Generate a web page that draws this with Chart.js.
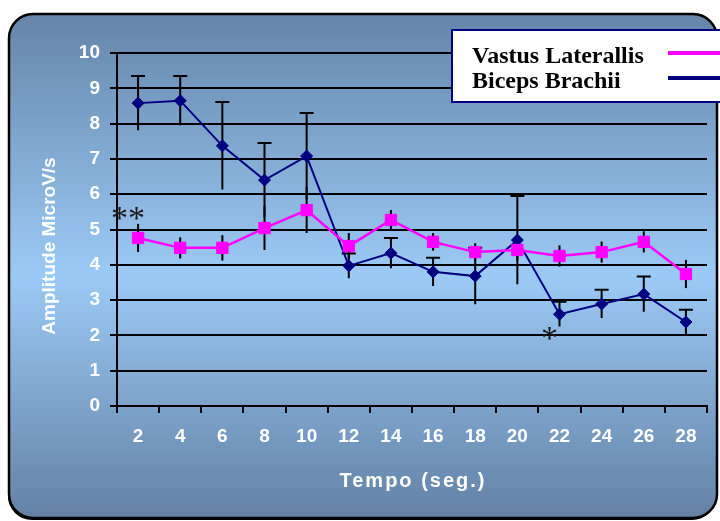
<!DOCTYPE html>
<html>
<head>
<meta charset="utf-8">
<script src="https://cdn.jsdelivr.net/npm/chart.js@4.4.1/dist/chart.umd.min.js"></script>
<style>
  html, body { margin: 0; padding: 0; background: #ffffff; }
  canvas { display: block; }
</style>
</head>
<body>
<canvas id="emg" width="720" height="521"></canvas>
<script>
// Time points (seconds)
const tempo = ['2', '4', '6', '8', '10', '12', '14', '16', '18', '20', '22', '24', '26', '28'];

// Mean EMG amplitude (µV/s) and error (±)
const vastusLaterallis = [4.76, 4.48, 4.48, 5.04, 5.55, 4.53, 5.27, 4.65, 4.36, 4.42, 4.25, 4.36, 4.65, 3.74];
const vastusErr        = [0.40, 0.30, 0.36, 0.62, 0.65, 0.37, 0.28, 0.25, 0.25, 0.30, 0.30, 0.30, 0.30, 0.40];
const bicepsBrachii    = [8.58, 8.65, 7.37, 6.40, 7.08, 3.97, 4.33, 3.80, 3.68, 4.70, 2.60, 2.89, 3.17, 2.38];
const bicepsErr        = [0.77, 0.70, 1.24, 1.05, 1.22, 0.35, 0.43, 0.40, 0.80, 1.25, 0.35, 0.40, 0.50, 0.35];

// Y axis ticks
const yTicks = [0, 1, 2, 3, 4, 5, 6, 7, 8, 9, 10];

// Significance markers: [category index, value, text]
const significance = [
  [0, 5.47, '**'],
  [10, 2.07, '*']
];

function roundRectPath(ctx, x, y, w, h, r) {
  ctx.beginPath();
  ctx.moveTo(x + r, y);
  ctx.lineTo(x + w - r, y);
  ctx.arcTo(x + w, y, x + w, y + r, r);
  ctx.lineTo(x + w, y + h - r);
  ctx.arcTo(x + w, y + h, x + w - r, y + h, r);
  ctx.lineTo(x + r, y + h);
  ctx.arcTo(x, y + h, x, y + h - r, r);
  ctx.lineTo(x, y + r);
  ctx.arcTo(x, y, x + r, y, r);
  ctx.closePath();
}

// Rounded panel with vertical blue gradient behind the chart
const panel = {
  id: 'panel',
  beforeDraw(chart) {
    const ctx = chart.ctx;
    ctx.save();
    ctx.fillStyle = '#ffffff';
    ctx.fillRect(0, 0, chart.width, chart.height);
    const x = 9, y = 14, w = 708, h = 504, r = 24;
    roundRectPath(ctx, x - 1, y + 2, w, h, r);
    ctx.fillStyle = '#000000';
    ctx.fill();
    const g = ctx.createLinearGradient(0, y, 0, y + h);
    g.addColorStop(0, '#6585a9');
    g.addColorStop(0.52, '#9ccaf6');
    g.addColorStop(1, '#6381a5');
    roundRectPath(ctx, x, y, w, h, r);
    ctx.fillStyle = g;
    ctx.fill();
    ctx.lineWidth = 2.5;
    ctx.strokeStyle = '#000000';
    ctx.stroke();
    ctx.restore();
  }
};

// Vertical error bars; cap only on the upper end where requested
const errorBars = {
  id: 'errorBars',
  beforeDatasetsDraw(chart) {
    const ctx = chart.ctx;
    const ys = chart.scales.y;
    ctx.save();
    ctx.strokeStyle = '#000000';
    ctx.lineWidth = 2;
    chart.data.datasets.forEach((ds, i) => {
      const meta = chart.getDatasetMeta(i);
      meta.data.forEach((pt, j) => {
        const v = ds.data[j], e = ds.errorBars[j];
        const top = ys.getPixelForValue(v + e);
        const bot = ys.getPixelForValue(v - e);
        ctx.beginPath();
        ctx.moveTo(pt.x, top);
        ctx.lineTo(pt.x, bot);
        if (ds.topCap) {
          ctx.moveTo(pt.x - 7, top);
          ctx.lineTo(pt.x + 7, top);
        }
        ctx.stroke();
      });
    });
    ctx.restore();
  }
};

// Axis titles, significance asterisks and the legend box
const decorations = {
  id: 'decorations',
  afterDraw(chart) {
    const ctx = chart.ctx;
    const xs = chart.scales.x, ys = chart.scales.y;
    const area = chart.chartArea;
    ctx.save();

    // Axis titles
    ctx.fillStyle = '#ffffff';
    ctx.textAlign = 'center';
    ctx.textBaseline = 'middle';
    ctx.font = 'bold 20px "Liberation Sans", Arial, sans-serif';
    ctx.letterSpacing = '2px';
    ctx.fillText('Tempo (seg.)', (area.left + area.right) / 2 + 1, 481);
    ctx.letterSpacing = '0px';
    ctx.save();
    ctx.translate(50, 246);
    ctx.rotate(-Math.PI / 2);
    ctx.font = 'bold 19px "Liberation Sans", Arial, sans-serif';
    ctx.fillText('Amplitude MicroV/s', 0, 0);
    ctx.restore();

    // Significance asterisks
    const aSize = 34;
    ctx.fillStyle = '#1a1a1a';
    ctx.font = aSize + 'px "Liberation Serif", "Times New Roman", serif';
    ctx.textBaseline = 'alphabetic';
    significance.forEach(([idx, val, txt]) => {
      const px = xs.getPixelForValue(idx) - 10;
      const py = ys.getPixelForValue(val) + aSize * 0.48;
      ctx.fillText(txt, px, py);
    });

    // Legend
    const lx = 452, ly = 30, lw = 272, lh = 72;
    ctx.fillStyle = '#ffffff';
    ctx.fillRect(lx, ly, lw, lh);
    ctx.lineWidth = 2;
    ctx.strokeStyle = '#000080';
    ctx.strokeRect(lx, ly, lw, lh);
    ctx.textAlign = 'left';
    ctx.textBaseline = 'middle';
    ctx.font = 'bold 24px "Liberation Serif", "Times New Roman", serif';
    chart.data.datasets.forEach((ds, i) => {
      const cy = 57 + i * 25;
      ctx.fillStyle = '#000000';
      ctx.fillText(ds.label, 472, cy);
      ctx.strokeStyle = ds.borderColor;
      ctx.lineWidth = 4;
      ctx.beginPath();
      ctx.moveTo(668, cy - 4);
      ctx.lineTo(724, cy - 4);
      ctx.stroke();
    });
    ctx.restore();
  }
};

new Chart(document.getElementById('emg'), {
  type: 'line',
  data: {
    labels: tempo,
    datasets: [
      {
        label: 'Vastus Laterallis',
        data: vastusLaterallis,
        errorBars: vastusErr,
        topCap: false,
        borderColor: '#ff00ff',
        backgroundColor: '#ff00ff',
        borderWidth: 2.5,
        pointStyle: 'rect',
        pointRadius: 8,
        pointBorderWidth: 1,
        pointBackgroundColor: '#ff00ff',
        pointBorderColor: '#ff00ff',
        tension: 0
      },
      {
        label: 'Biceps Brachii',
        data: bicepsBrachii,
        errorBars: bicepsErr,
        topCap: true,
        borderColor: '#000080',
        backgroundColor: '#000080',
        borderWidth: 2,
        pointStyle: 'rectRot',
        pointRadius: 6,
        pointBorderWidth: 1,
        pointBackgroundColor: '#000080',
        pointBorderColor: '#000080',
        tension: 0
      }
    ]
  },
  options: {
    responsive: false,
    animation: false,
    layout: { padding: { left: 0, top: 53, right: 13, bottom: 0 } },
    plugins: {
      legend: { display: false },
      tooltip: { enabled: false }
    },
    scales: {
      x: {
        type: 'category',
        offset: true,
        afterFit(scale) { scale.height = 115; },
        grid: {
          offset: true,
          drawOnChartArea: false,
          color: '#000000',
          lineWidth: 2,
          tickLength: 7
        },
        border: { display: true, color: '#000000', width: 2 },
        ticks: {
          color: '#ffffff',
          padding: 12,
          maxRotation: 0,
          autoSkip: false,
          font: { family: '"Liberation Sans", Arial, sans-serif', size: 19, weight: 'bold' }
        }
      },
      y: {
        min: 0,
        max: 10,
        afterFit(scale) { scale.width = 117; },
        afterBuildTicks(scale) { scale.ticks = yTicks.map(v => ({ value: v })); },
        grid: {
          color: '#000000',
          lineWidth: 2,
          tickLength: 7
        },
        border: { display: true, color: '#000000', width: 2 },
        ticks: {
          color: '#ffffff',
          padding: 10,
          font: { family: '"Liberation Sans", Arial, sans-serif', size: 19, weight: 'bold' }
        }
      }
    }
  },
  plugins: [panel, errorBars, decorations]
});
</script>
</body>
</html>
